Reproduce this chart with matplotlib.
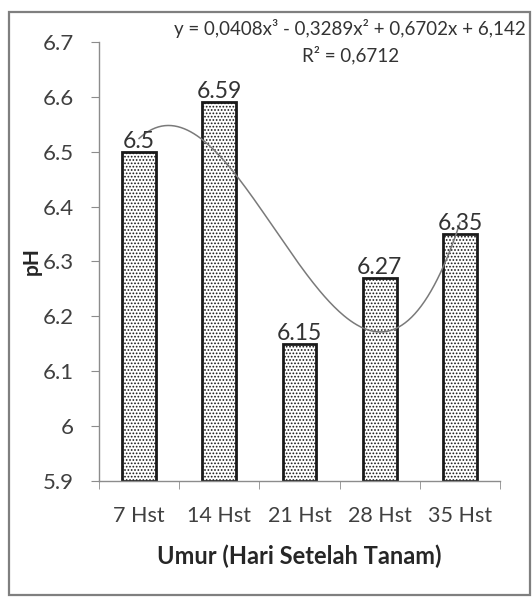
import matplotlib.pyplot as plt
import numpy as np
from matplotlib.patches import Rectangle

# data
categories = ['7 Hst', '14 Hst', '21 Hst', '28 Hst', '35 Hst']
ph_values = [6.5, 6.59, 6.15, 6.27, 6.35]
poly_coef = [0.0408, -0.3289, 0.6702, 6.142]  # trendline y = ax^3 + bx^2 + cx + d
r_squared = 0.6712
y_ticks = [5.9, 6.0, 6.1, 6.2, 6.3, 6.4, 6.5, 6.6, 6.7]
y_tick_labels = ['5.9', '6', '6.1', '6.2', '6.3', '6.4', '6.5', '6.6', '6.7']

plt.rcParams['font.family'] = ['Lato', 'DejaVu Sans']
plt.rcParams['hatch.color'] = '#a0a0a0'
plt.rcParams['hatch.linewidth'] = 0.8

fig = plt.figure(figsize=(5.32, 5.99), dpi=100)
fig.patch.set_facecolor('white')
fig.add_artist(Rectangle((0.017, 0.007), 0.98, 0.973, transform=fig.transFigure,
                         fill=False, edgecolor='#7f7f7f', linewidth=1.6))

ax = fig.add_axes([0.186, 0.197, 0.754, 0.733])
x = np.arange(len(categories))
bars = ax.bar(x, [v - 5.9 for v in ph_values], bottom=5.9, width=0.42,
              color='white', edgecolor='#1a1a1a', linewidth=2, hatch='.....')
ax.bar_label(bars, labels=[f'{v:g}' for v in ph_values], padding=0,
             fontsize=16.5, color='#333333')

# polynomial trendline over x = 1..5
xt = np.linspace(1, 5, 200)
ax.plot(xt - 1, np.polyval(poly_coef, xt), color='#7a7a7a', linewidth=1.1)

ax.set_xlim(-0.5, 4.5)
ax.set_ylim(5.9, 6.7)
ax.set_yticks(y_ticks)
ax.set_yticklabels(y_tick_labels)
ax.set_xticks(x)
ax.set_xticklabels(categories)
ax.set_xticks(np.arange(-0.5, 5, 1), minor=True)
ax.tick_params(axis='x', which='major', length=0, pad=18, labelsize=15.5, labelcolor='#404040')
ax.tick_params(axis='x', which='minor', length=6, color='#8c8c8c', direction='out')
ax.tick_params(axis='y', length=6, color='#8c8c8c', pad=12, labelsize=16, labelcolor='#404040')
for side in ['top', 'right']:
    ax.spines[side].set_visible(False)
for side in ['left', 'bottom']:
    ax.spines[side].set_color('#8c8c8c')
    ax.spines[side].set_linewidth(1)

ax.set_xlabel('Umur (Hari Setelah Tanam)', fontsize=17, fontweight='bold',
              color='#262626', labelpad=13)
ax.set_ylabel('pH', fontsize=15, fontweight='bold', color='#262626', labelpad=1)

eq = ('y = 0,0408x\u00b3 - 0,3289x\u00b2 + 0,6702x + 6,142')
fig.text(350 / 532, 1 - 29 / 599, eq, ha='center', va='center', fontsize=13.5, color='#333333')
fig.text(351 / 532, 1 - 55 / 599, f'R\u00b2 = {r_squared:.4f}'.replace('.', ','),
         ha='center', va='center', fontsize=13.5, color='#333333')

fig.savefig('out.png', dpi=100)
